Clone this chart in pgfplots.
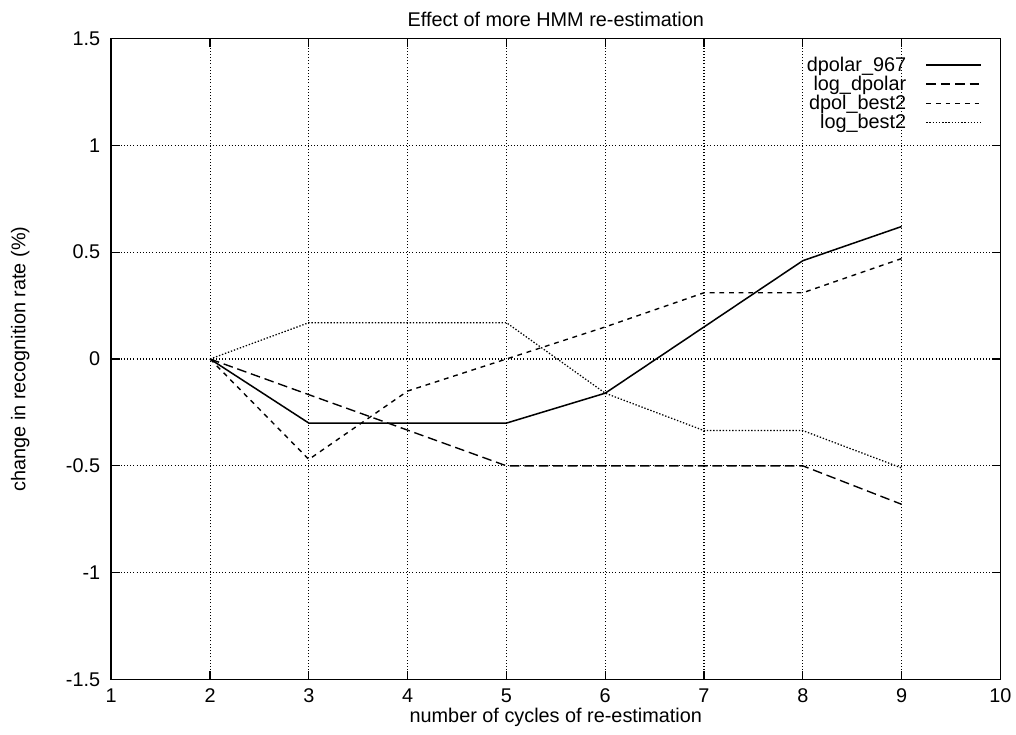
\documentclass[border=0pt]{standalone}
\usepackage{fontspec}
\setmainfont{Liberation Sans}
\usepackage{pgfplots}
\pgfplotsset{compat=1.18}

\begin{document}
\begin{tikzpicture}[font=\fontsize{14.4}{16}\selectfont]
\begin{axis}[
    scale only axis,
    width=645pt,
    height=465pt,
    xmin=1, xmax=10,
    ymin=-1.5, ymax=1.5,
    xtick={1,2,...,10},
    ytick={-1.5,-1,-0.5,0,0.5,1,1.5},
    yticklabels={-1.5,-1,-0.5,0,0.5,1,1.5},
    /pgf/number format/assume math mode=true,
    tick align=inside,
    major tick length=6pt,
    tick style={black, line width=0.9pt},
    axis line style={line width=1.2pt},
    grid=major,
    grid style={black, dash pattern=on 0.7pt off 1.6pt, line width=0.75pt},
    xticklabel style={yshift=-3pt},
    yticklabel style={xshift=-4.5pt},
    title={Effect of more HMM re-estimation},
    title style={at={(axis description cs:0.5,1)}, anchor=base, yshift=3pt, inner sep=8.5pt},
    xlabel={number of cycles of re-estimation},
    ylabel={change in recognition rate (\%)},
    xlabel style={at={(axis description cs:0.5,0)}, anchor=base, yshift=-31pt, inner sep=6pt},
    ylabel style={at={(axis description cs:0,0.5)}, anchor=center, yshift=66pt, inner sep=8pt},
    legend style={draw=none, fill=none, at={(1,1)}, anchor=north east,
        xshift=-10pt, yshift=-9pt,
        legend cell align=right, row sep=-2pt},
    legend plot pos=right,
    legend image code/.code={\path (0pt,0pt); \draw[#1] (12pt,0pt) -- (52pt,0pt);},
]
\addplot[black, line width=1.1pt] coordinates {
    (2,0) (3,-0.30) (4,-0.30) (5,-0.30) (6,-0.16) (7,0.15) (8,0.46) (9,0.62)
};
\addplot[black, line width=1pt, dash pattern=on 7pt off 3.5pt] coordinates {
    (2,0) (3,-0.167) (4,-0.333) (5,-0.50) (6,-0.50) (7,-0.50) (8,-0.50) (9,-0.68)
};
\addplot[black, line width=1pt, dash pattern=on 3.5pt off 3.5pt] coordinates {
    (2,0) (3,-0.47) (4,-0.15) (5,0.0) (6,0.15) (7,0.31) (8,0.31) (9,0.47)
};
\addplot[black, line width=0.9pt, dash pattern=on 1pt off 1.3pt] coordinates {
    (2,0) (3,0.17) (4,0.17) (5,0.17) (6,-0.16) (7,-0.335) (8,-0.335) (9,-0.51)
};
\legend{dpolar\_967, log\_dpolar, dpol\_best2, log\_best2}
\end{axis}
\end{tikzpicture}
\end{document}
